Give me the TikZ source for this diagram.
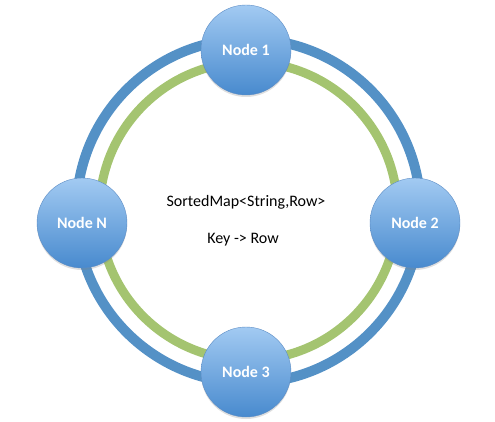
\documentclass[tikz,border=0pt]{standalone}
\usepackage{fontspec}
\setmainfont{Carlito}
\definecolor{OuterRing}{RGB}{84,145,198}
\definecolor{InnerRing}{RGB}{164,196,112}
\definecolor{NodeTop}{RGB}{162,202,242}
\definecolor{NodeBottom}{RGB}{72,138,206}
\definecolor{NodeEdge}{RGB}{92,140,196}
\usetikzlibrary{positioning, shadows, shadings}
\tikzstyle{ringnode} = [circle, minimum size=90pt, inner sep=0pt, draw=NodeEdge, thin, top color=NodeTop, bottom color=NodeBottom, text=white, font=\fontsize{16}{19}\selectfont\bfseries, drop shadow={opacity=0.25, shadow xshift=0pt, shadow yshift=-2pt}]

\begin{document}
\begin{tikzpicture}[x=1pt, y=1pt]
            \useasboundingbox (0,0) rectangle (495,421);
            \coordinate (ringcenter) at (248.5,210);

            % Rings
            \draw[OuterRing, line width=10pt] (ringcenter) circle (172);
            \draw[InnerRing, line width=9pt] (ringcenter) circle (149);

            % Nodes
            \node[ringnode] (node1) at (246,371) {Node 1};
            \node[ringnode] (node2) at (415,198) {Node 2};
            \node[ringnode] (node3) at (246,49) {Node 3};
            \node[ringnode] (noden) at (82,198) {Node N};

            % Map
            \node[font=\fontsize{16}{19}\selectfont] (sortedmap) at (246,219) {SortedMap<String,Row>};
            \node[font=\fontsize{16}{19}\selectfont] (keyrow) at (243,181) {Key -> Row};
        \end{tikzpicture}
\end{document}
